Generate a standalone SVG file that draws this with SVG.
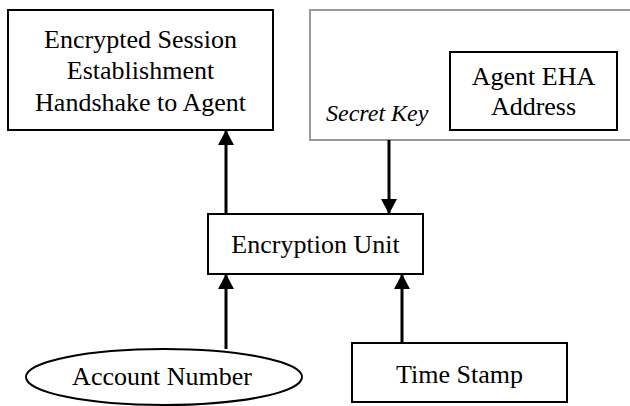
<svg xmlns="http://www.w3.org/2000/svg" width="630" height="406" viewBox="0 0 630 406">
  <style>
    .box { fill: #ffffff; stroke: #000000; stroke-width: 2; }
    .frame { fill: #ffffff; stroke: #999999; stroke-width: 2; }
    .lbl { font-family: 'Liberation Serif', 'DejaVu Serif', serif; font-size: 26px; fill: #000000; text-anchor: middle; }
    .key { font-family: 'Liberation Serif', 'DejaVu Serif', serif; font-size: 24px; font-style: italic; fill: #000000; }
    .wire { fill: none; stroke: #000000; stroke-width: 3; marker-end: url(#head); }
  </style>
  <defs>
    <marker id="head" markerUnits="userSpaceOnUse" markerWidth="16" markerHeight="16" viewBox="0 0 16 16" refX="15" refY="8" orient="auto">
      <path d="M0,0 L15,8 L0,16 Z" fill="#000000"/>
    </marker>
  </defs>

  <rect width="630" height="406" fill="#ffffff"/>

  <g id="handshake">
    <rect class="box" x="8" y="10" width="265" height="120"/>
    <text class="lbl" x="140.5" y="48">Encrypted Session</text>
    <text class="lbl" x="140.5" y="79">Establishment</text>
    <text class="lbl" x="140.5" y="111">Handshake to Agent</text>
  </g>

  <g id="secret-key">
    <rect class="frame" x="310" y="10" width="340" height="130"/>
    <text class="key" x="326" y="121">Secret Key</text>
  </g>

  <g id="agent-eha">
    <rect class="box" x="450" y="52" width="167" height="78"/>
    <text class="lbl" x="533.5" y="85">Agent EHA</text>
    <text class="lbl" x="533.5" y="115">Address</text>
  </g>

  <g id="encryption-unit">
    <rect class="box" x="208" y="214" width="215" height="60"/>
    <text class="lbl" x="315.5" y="253">Encryption Unit</text>
  </g>

  <g id="account-number">
    <ellipse class="box" cx="164" cy="377" rx="138" ry="28"/>
    <text class="lbl" x="162" y="385">Account Number</text>
  </g>

  <g id="time-stamp">
    <rect class="box" x="352" y="343" width="215" height="59"/>
    <text class="lbl" x="459.5" y="383">Time Stamp</text>
  </g>

  <g id="connectors">
    <line class="wire" x1="226" y1="214" x2="226" y2="130"/>
    <line class="wire" x1="389" y1="140" x2="389" y2="214"/>
    <line class="wire" x1="226" y1="349" x2="226" y2="274"/>
    <line class="wire" x1="402" y1="343" x2="402" y2="274"/>
  </g>
</svg>
